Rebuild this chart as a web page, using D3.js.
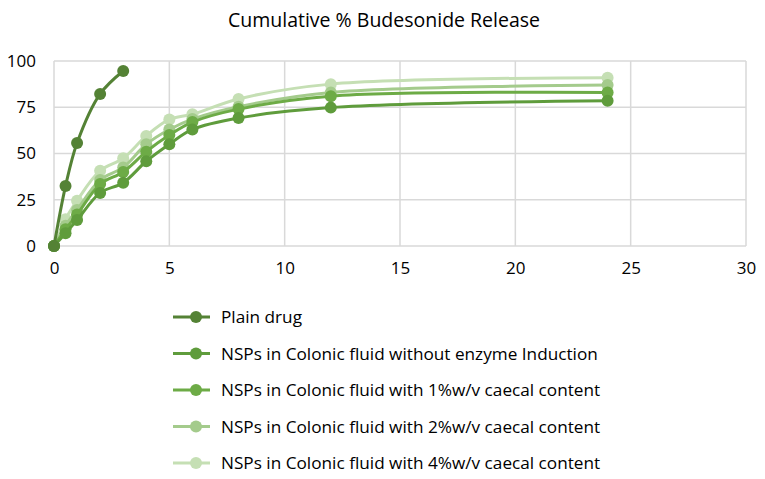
<!DOCTYPE html>
<html>
<head>
<meta charset="utf-8">
<script src="https://cdn.jsdelivr.net/npm/d3@7"></script>
<style>
	body { margin: 0; background: #fff; }
	text { font-family: 'Open Sans', 'Noto Sans', sans-serif; fill: #000; }
</style>
</head>
<body>
<svg id="chart" width="765" height="479"></svg>
<script>
const title = 'Cumulative % Budesonide Release';
const names = [
	'Plain drug',
	'NSPs in Colonic fluid without enzyme Induction',
	'NSPs in Colonic fluid with 1%w/v caecal content',
	'NSPs in Colonic fluid with 2%w/v caecal content',
	'NSPs in Colonic fluid with 4%w/v caecal content'
];
const colors = ['#548235', '#5f9c3c', '#6dab46', '#a4cb8c', '#c5dfb4'];
const plainTime = [0, 0.5, 1, 2, 3];
const plainRelease = [0, 32.4, 55.7, 82.2, 94.6];
const nspTime = [0, 0.5, 1, 2, 3, 4, 5, 6, 8, 12, 24];
const noEnzyme = [0, 6.9, 14, 28.7, 34.2, 45.8, 55, 63, 69.2, 74.8, 78.5];
const caecal1 = [0, 9, 17, 33.5, 40, 51, 60, 67, 74, 81, 83];
const caecal2 = [0, 11, 19.5, 35.7, 42.5, 55, 63, 68.6, 75.3, 83, 87];
const caecal4 = [0, 14.5, 24.5, 40.7, 47.4, 59.5, 68.4, 71.2, 79.5, 87.5, 91];
const xTicks = [0, 5, 10, 15, 20, 25, 30];
const yTicks = [0, 25, 50, 75, 100];

const series = [
	{ x: plainTime, y: plainRelease },
	{ x: nspTime, y: noEnzyme },
	{ x: nspTime, y: caecal1 },
	{ x: nspTime, y: caecal2 },
	{ x: nspTime, y: caecal4 }
].map((s, i) => ({ name: names[i], color: colors[i], data: s.x.map((t, j) => ({ t: t, v: s.y[j] })) }));

const svg = d3.select('#chart'),
	margin = { top: 61, right: 19, bottom: 233, left: 54 },
	width = +svg.attr('width') - margin.left - margin.right,
	height = +svg.attr('height') - margin.top - margin.bottom,
	g = svg.append('g').attr('transform', 'translate(' + margin.left + ',' + margin.top + ')');

let x = d3.scaleLinear().domain([0, 30]).range([0, width]);
let y = d3.scaleLinear().domain([0, 100]).range([height, 0]);

svg.append('text')
	.attr('x', 384).attr('y', 27)
	.attr('text-anchor', 'middle')
	.style('font-size', '19.5px')
	.text(title);

// grid
g.append('g').selectAll('line').data(yTicks).join('line')
	.attr('x1', 0).attr('x2', width)
	.attr('y1', d => y(d)).attr('y2', d => y(d))
	.attr('stroke', '#d9d9d9').attr('stroke-width', 1.5);
g.append('g').selectAll('line').data(xTicks).join('line')
	.attr('x1', d => x(d)).attr('x2', d => x(d))
	.attr('y1', 0).attr('y2', height)
	.attr('stroke', '#d9d9d9').attr('stroke-width', 1.5);

let yAxis = g.append('g').call(d3.axisLeft(y).tickValues(yTicks).tickSize(0).tickPadding(18));
let xAxis = g.append('g').attr('transform', 'translate(0,' + height + ')')
	.call(d3.axisBottom(x).tickValues(xTicks).tickSize(0).tickPadding(16));
[xAxis, yAxis].forEach(a => {
	a.select('.domain').remove();
	a.selectAll('text').style('font-size', '17px').style('font-family', "'Open Sans', sans-serif");
});

let line = d3.line()
	.x(d => x(d.t))
	.y(d => y(d.v))
	.curve(d3.curveCatmullRom.alpha(0.5));

series.slice().reverse().forEach(s => {
	g.append('path').datum(s.data)
		.attr('d', line)
		.attr('fill', 'none')
		.attr('stroke', s.color)
		.attr('stroke-width', 3);
	g.append('g').selectAll('circle').data(s.data).join('circle')
		.attr('cx', d => x(d.t)).attr('cy', d => y(d.v))
		.attr('r', 6)
		.attr('fill', s.color);
});

// legend
let legend = svg.append('g').attr('transform', 'translate(173,317)');
series.forEach((s, i) => {
	let row = legend.append('g').attr('transform', 'translate(0,' + i * 36.5 + ')');
	row.append('line').attr('x1', 0).attr('x2', 37).attr('stroke', s.color).attr('stroke-width', 3);
	row.append('circle').attr('cx', 23).attr('r', 6).attr('fill', s.color);
	row.append('text').attr('x', 48).attr('dy', '0.35em').style('font-size', '17.2px').text(s.name);
});
</script>
</body>
</html>
